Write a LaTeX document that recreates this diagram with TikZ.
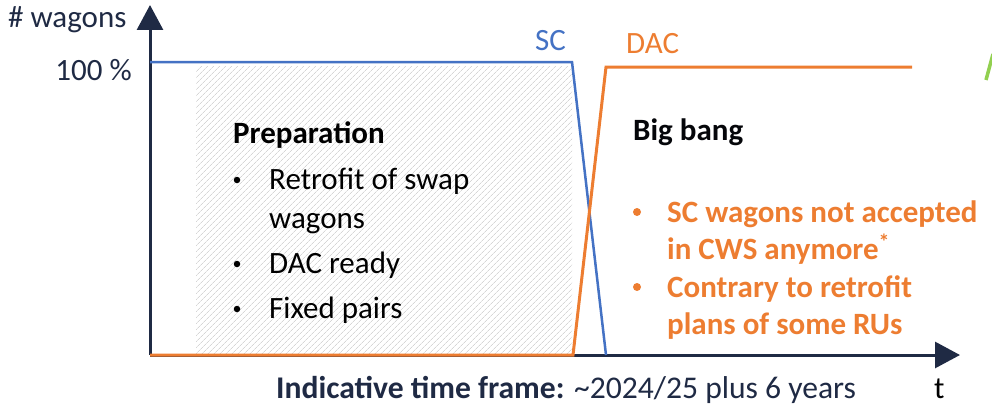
\documentclass[tikz,border=0pt]{standalone}
\usepackage{fontspec}
\setmainfont{Carlito}
\usetikzlibrary{arrows.meta,patterns.meta}
\definecolor{scblue}{HTML}{4472C4}
\definecolor{dacorange}{HTML}{ED7D31}
\definecolor{navy}{HTML}{1F2A44}
\definecolor{grn}{HTML}{92D050}
\tikzset{
  axisline/.style={draw=navy,line width=3pt,-{Triangle[length=25pt,width=26pt]}},
  lbl/.style={font=\fontsize{31}{31}\selectfont,inner sep=0pt,anchor=base west},
  blk/.style={lbl,text=black},
  org/.style={lbl,text=dacorange,font=\fontsize{31}{31}\selectfont\bfseries},
  dot/.style={circle,inner sep=0pt,minimum size=6.5pt,fill=#1},
}
\begin{document}
\begin{tikzpicture}[x=1pt,y=-1pt]
\useasboundingbox (0,0) rectangle (992,412);
% hatched preparation area
\fill[pattern={Lines[angle=45,distance=4pt,line width=0.75pt]},pattern color=black!16] (196,66) rectangle (572,353);
% axes
\coordinate (o) at (150,355);
\coordinate (ytip) at (150,5);
\coordinate (xtip) at (960,355);
\draw[axisline] (o) -- (ytip);
\draw[axisline] (o) -- (xtip);
% SC curve
\coordinate (sc0) at (150,62);
\coordinate (sc1) at (572,62);
\coordinate (sc2) at (606,355);
\draw[scblue,line width=2.5pt,line join=miter] (sc0) -- (sc1) -- (sc2);
% DAC curve
\coordinate (d0) at (150,355);
\coordinate (d1) at (573,355);
\coordinate (d2) at (606,67);
\coordinate (d3) at (912,67);
\draw[dacorange,line width=3pt,line join=miter] (d0) -- (d1) -- (d2) -- (d3);
% green fragment
\coordinate (g0) at (986,80);
\coordinate (g1) at (993,54);
\draw[grn,line width=3.5pt] (g0) -- (g1);
% axis labels
\node[lbl,text=navy] (ylab) at (8,28) {\# wagons};
\node[lbl,text=navy,anchor=base east] (hundred) at (132,80) {100 \%};
\node[lbl,text=scblue] (sclab) at (535,51) {SC};
\node[lbl,text=dacorange] (daclab) at (626,53) {DAC};
% preparation
\node[blk,font=\fontsize{31}{31}\selectfont\bfseries] (prep) at (233,143) {Preparation};
\node[dot=black] (b1) at (237,180) {};
\node[blk] (p1) at (269,189) {Retrofit of swap};
\node[blk] (p1b) at (269,228) {wagons};
\node[dot=black] (b2) at (237,264) {};
\node[blk] (p2) at (269,273) {DAC ready};
\node[dot=black] (b3) at (237,309) {};
\node[blk] (p3) at (269,318) {Fixed pairs};
% big bang
\node[blk,text=black!85!navy,font=\fontsize{31}{31}\selectfont\bfseries] (bang) at (633,140) {Big bang};
\node[dot=dacorange,minimum size=8pt] (o1b) at (637,212) {};
\node[org] (o1) at (667,222) {SC wagons not accepted};
\node[org] (o1c) at (667,259) {in CWS anymore\textsuperscript{*}};
\node[dot=dacorange,minimum size=8pt] (o2b) at (637,287) {};
\node[org] (o2) at (667,297) {Contrary to retrofit};
\node[org] (o2c) at (667,334) {plans of some RUs};
% bottom
\node[lbl,text=navy,font=\fontsize{31.6}{31.6}\selectfont] (frame) at (276,398) {\textbf{Indicative time frame:} \textasciitilde2024/25 plus 6 years};
\node[lbl,text=black] (tlab) at (934,398) {t};
\end{tikzpicture}
\end{document}
